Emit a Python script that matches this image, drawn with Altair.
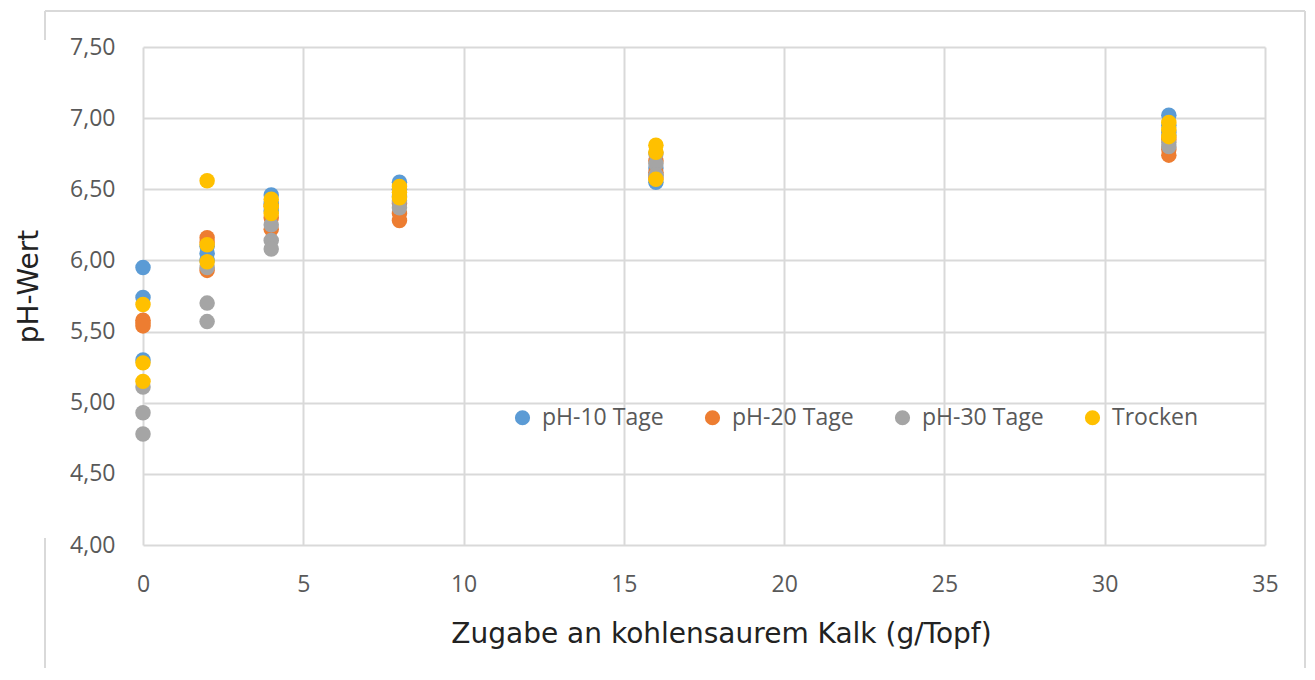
import altair as alt
import pandas as pd

series = ["pH-10 Tage", "pH-20 Tage", "pH-30 Tage", "Trocken"]
colors = ["#5B9BD5", "#ED7D31", "#A5A5A5", "#FFC000"]
kalk = [0, 2, 4, 8, 16, 32]

ph10 = [[5.95, 5.74, 5.30], [6.10, 6.05, 6.00], [6.46, 6.40, 6.35],
        [6.55, 6.50, 6.45], [6.65, 6.60, 6.55], [7.02, 6.95, 6.90]]
ph20 = [[5.58, 5.56, 5.54], [6.16, 6.13, 5.93], [6.38, 6.30, 6.22],
        [6.40, 6.33, 6.28], [6.70, 6.62, 6.58], [6.85, 6.78, 6.74]]
ph30 = [[5.11, 4.93, 4.78], [5.95, 5.70, 5.57], [6.25, 6.14, 6.08],
        [6.50, 6.42, 6.37], [6.75, 6.68, 6.60], [6.88, 6.83, 6.80]]
trocken = [[5.69, 5.28, 5.15], [6.56, 6.11, 5.99], [6.43, 6.38, 6.33],
           [6.52, 6.48, 6.44], [6.81, 6.76, 6.57], [6.97, 6.92, 6.87]]

rows = []
idx = 0
for name, vals in zip(series, [ph10, ph20, ph30, trocken]):
    for k, reps in zip(kalk, vals):
        for v in reps:
            rows.append({"Kalk": k, "pH": v, "Serie": name, "idx": idx})
            idx += 1
df = pd.DataFrame(rows)

GRID = "#D9D9D9"
TXT = "#595959"
FONT = "Open Sans"

points = alt.Chart(df).mark_circle(size=240, opacity=1).encode(
    x=alt.X("Kalk:Q",
            scale=alt.Scale(domain=[0, 35], nice=False, zero=False),
            axis=alt.Axis(values=[0, 5, 10, 15, 20, 25, 30, 35], grid=True,
                          gridColor=GRID, gridWidth=2, domain=False, ticks=False,
                          labelFlush=False,
                          labelFont=FONT, labelFontSize=23, labelColor=TXT,
                          labelPadding=28,
                          title="Zugabe an kohlensaurem Kalk (g/Topf)",
                          titleFont="DejaVu Sans", titleFontSize=28,
                          titleFontWeight="normal", titleColor="#222222",
                          titleX=578, titleAlign="center",
                          titleY=97, titleBaseline="alphabetic")),
    y=alt.Y("pH:Q",
            scale=alt.Scale(domain=[4, 7.5], nice=False, zero=False),
            axis=alt.Axis(values=[4, 4.5, 5, 5.5, 6, 6.5, 7, 7.5], grid=True,
                          gridColor=GRID, gridWidth=2, domain=False, ticks=False,
                          labelFlush=False,
                          labelExpr="replace(format(datum.value, '.2f'), '.', ',')",
                          labelFont=FONT, labelFontSize=23, labelColor=TXT,
                          labelPadding=28,
                          title="pH-Wert",
                          titleFont="DejaVu Sans", titleFontSize=28,
                          titleFontWeight="normal", titleColor="#222222",
                          titleX=-114, titleY=239, titleAngle=270,
                          titleAlign="center", titleBaseline="middle")),
    color=alt.Color("Serie:N",
                    scale=alt.Scale(domain=series, range=colors),
                    legend=alt.Legend(title=None, orient="none", direction="horizontal",
                                      legendX=368, legendY=359,
                                      symbolType="circle", symbolSize=230,
                                      symbolOpacity=1, symbolStrokeWidth=0,
                                      labelFont=FONT, labelFontSize=23,
                                      labelColor=TXT, labelOffset=8,
                                      columnPadding=37)),
    order=alt.Order("idx:Q"),
)

border_top = alt.Chart(df).mark_rule(color=GRID, strokeWidth=2).encode(
    x=alt.value(-98), x2=alt.value(1162), y=alt.value(-36))
border_right = alt.Chart(df).mark_rule(color=GRID, strokeWidth=2).encode(
    x=alt.value(1162), y=alt.value(-36), y2=alt.value(622))
border_left1 = alt.Chart(df).mark_rule(color=GRID, strokeWidth=2).encode(
    x=alt.value(-98), y=alt.value(-36), y2=alt.value(-7))
border_left2 = alt.Chart(df).mark_rule(color=GRID, strokeWidth=2).encode(
    x=alt.value(-98), y=alt.value(491), y2=alt.value(622))

chart = alt.layer(border_top, border_right, border_left1, border_left2, points).properties(
    width=1122, height=498,
    autosize=alt.AutoSizeParams(type="none"),
    padding={"left": 135, "top": 39, "right": 42, "bottom": 123},
).configure_view(stroke=None)

chart.save("out.html", embed_options={"renderer": "svg", "actions": False})
